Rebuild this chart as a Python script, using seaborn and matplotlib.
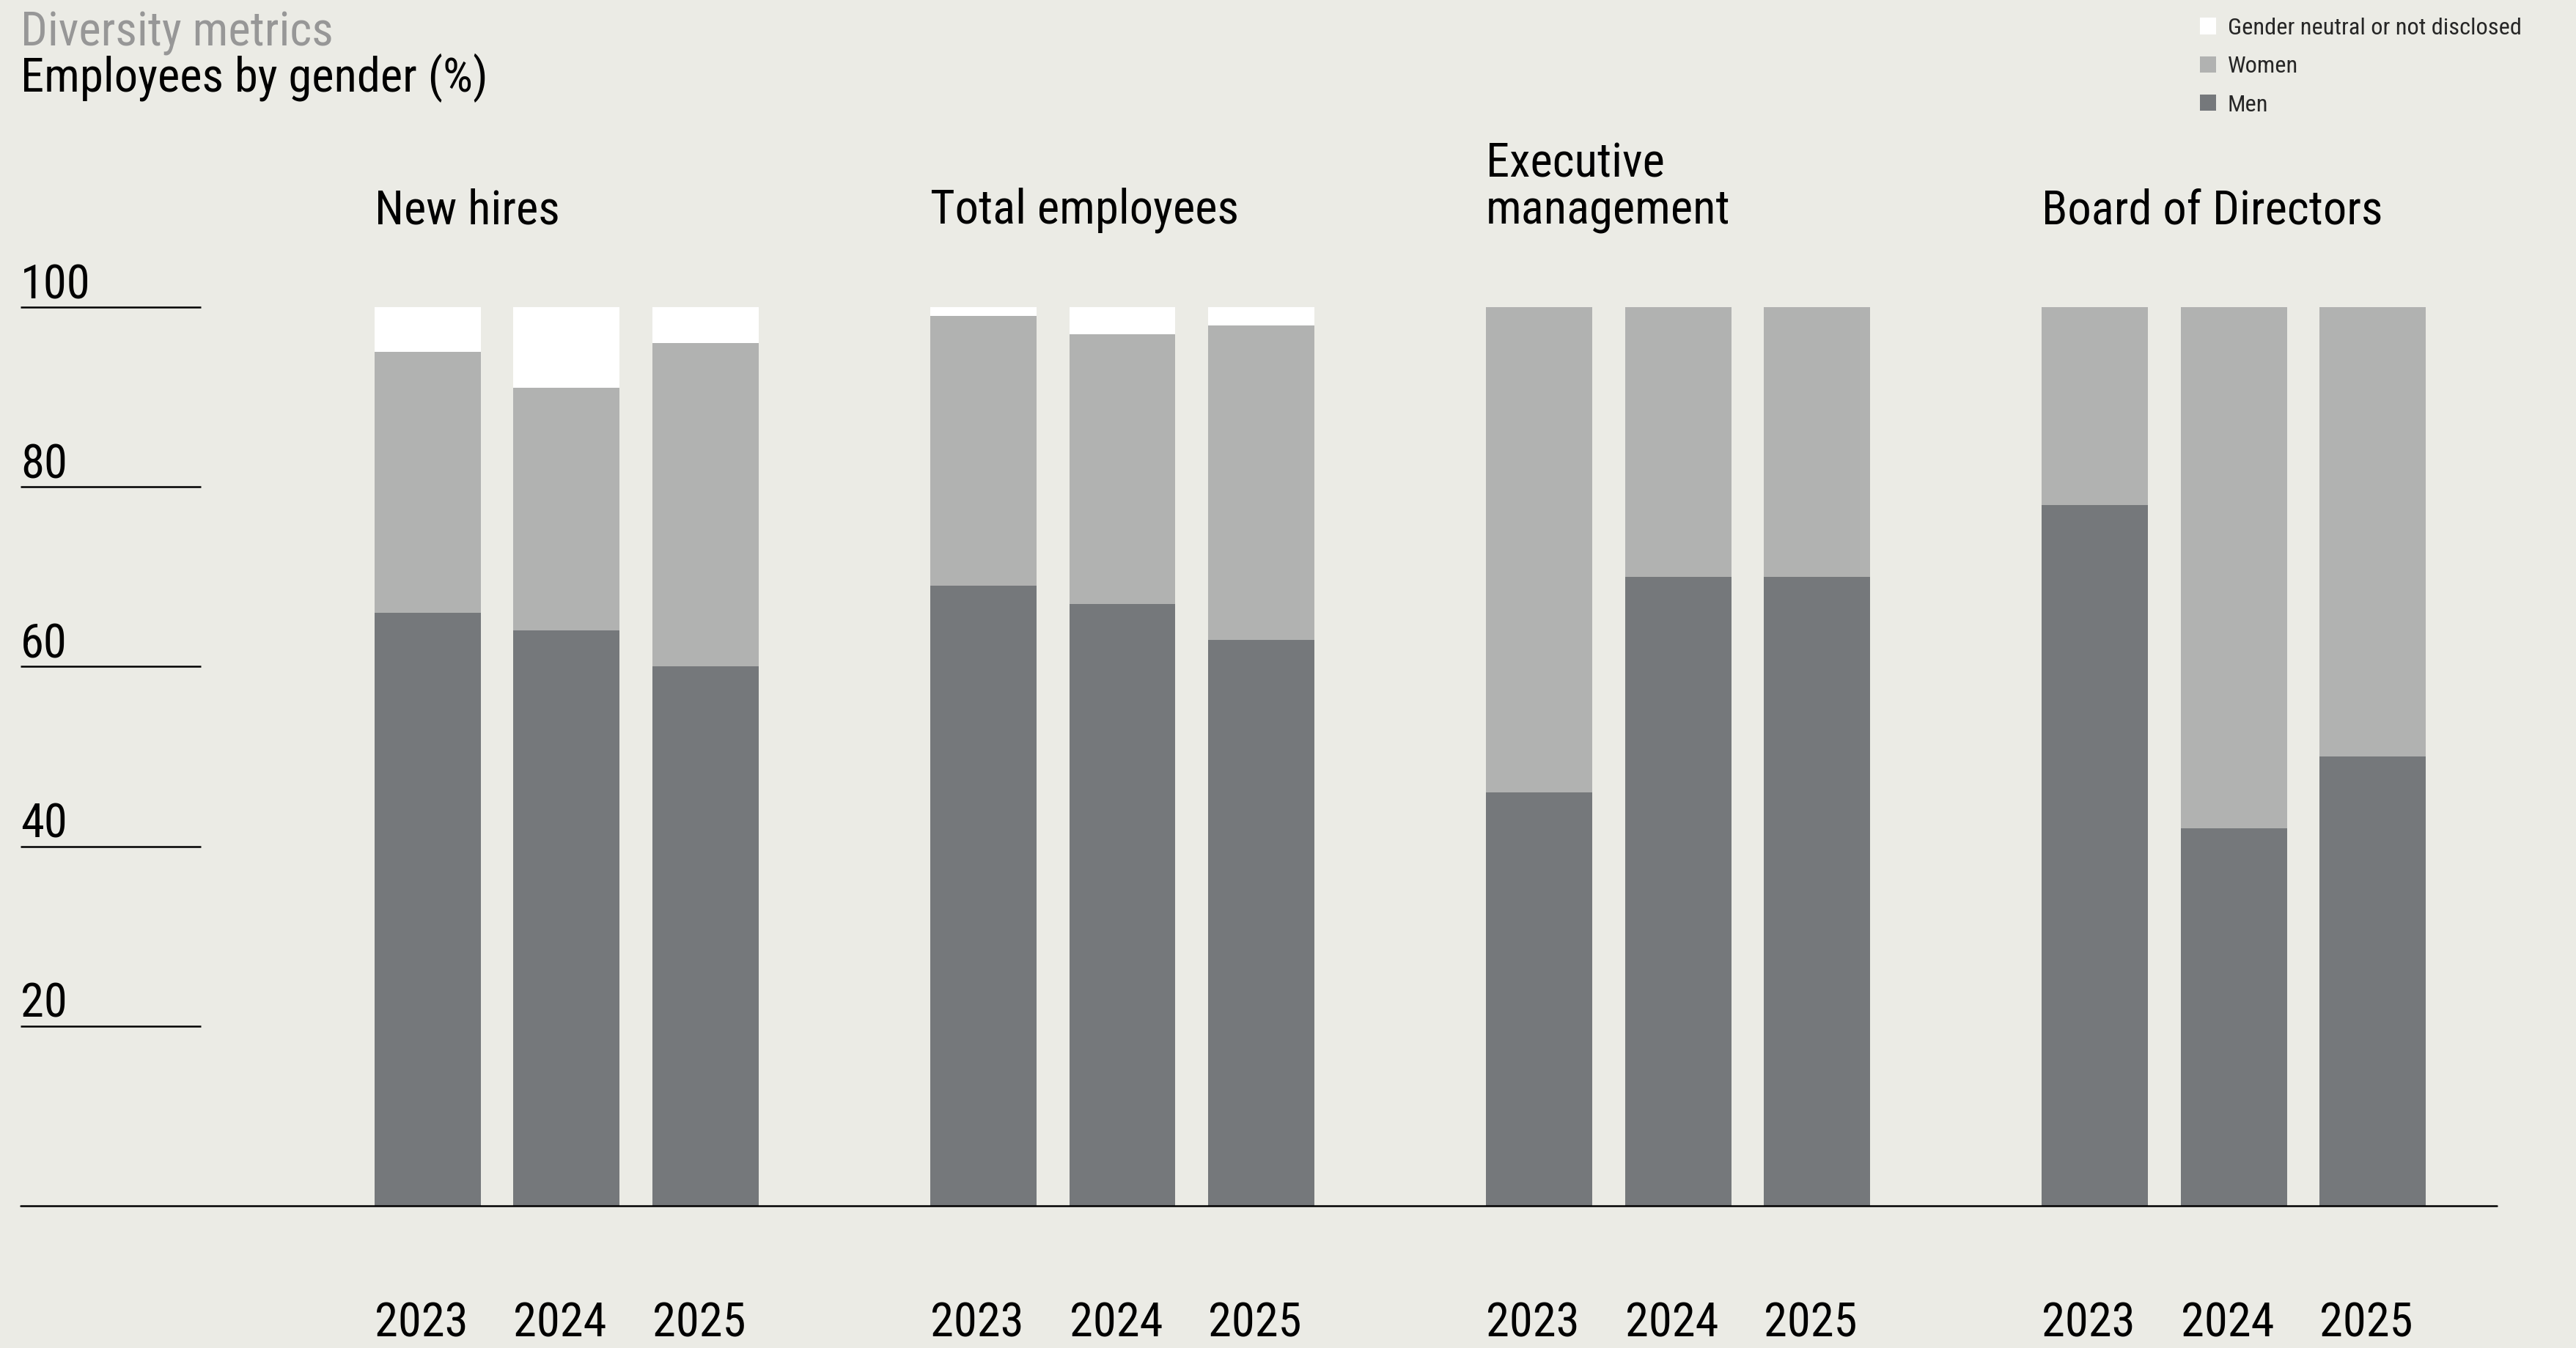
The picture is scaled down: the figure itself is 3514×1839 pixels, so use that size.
import matplotlib
matplotlib.use("Agg")
import matplotlib.pyplot as plt
import matplotlib.transforms as mtransforms
from matplotlib import font_manager
from matplotlib.font_manager import FontProperties
from matplotlib.textpath import TextPath
import seaborn as sns
import pandas as pd

# ---- data -------------------------------------------------------------
groups = ["New hires", "Total employees", "Executive\nmanagement", "Board of Directors"]
years = ["2023", "2024", "2025"]

men = [66, 64, 60, 69, 67, 63, 46, 70, 70, 78, 42, 50]
women = [29, 27, 36, 30, 30, 35, 54, 30, 30, 22, 58, 50]
neutral = [5, 9, 4, 1, 3, 2, 0, 0, 0, 0, 0, 0]

y_ticks = [20, 40, 60, 80, 100]
series_labels = ["Gender neutral or not disclosed", "Women", "Men"]

title_top = "Diversity metrics"
title_main = "Employees by gender (%)"

# ---- style ------------------------------------------------------------
W, H, DPI = 3514, 1839, 200
BG = "#EBEBE5"
DARK = "#75787B"
LIGHT = "#B1B2B1"
WHITE = "#FFFFFF"
GREY_TEXT = "#979797"

sns.set_style("white")
plt.rcParams["axes.facecolor"] = BG
plt.rcParams["figure.facecolor"] = BG

# pick the regular-weight sans face whose set width is the most compact:
# cap height of 46 px and a title about 634 px long
SANS = ("Liberation Sans", "Liberation Sans Narrow", "Roboto", "Roboto Condensed",
        "Open Sans", "Open Sans Condensed", "Open Sans SemiCondensed",
        "Noto Sans", "Noto Sans Display", "Noto Sans Condensed",
        "Noto Sans SemiCondensed", "Lato", "Inter", "DejaVu Sans")
CAP_PX, TITLE_PX = 46.0, 634.0
best = None
for f in font_manager.fontManager.ttflist:
    if f.name not in SANS or f.style != "normal" or f.weight not in (400, "normal", "regular"):
        continue
    try:
        p10 = FontProperties(fname=f.fname, size=10)
        cap10 = TextPath((0, 0), "E", prop=p10).get_extents().height
        wid10 = TextPath((0, 0), title_main, prop=p10).get_extents().width
    except Exception:
        continue
    width_at_cap = wid10 * CAP_PX / cap10
    score = abs(width_at_cap - TITLE_PX)
    if best is None or score < best[0]:
        best = (score, f.fname, cap10)
FONT_FILE, CAP10 = best[1], best[2]
PX_PER_PT = DPI / 72.0


def fp(cap_px):
    """Font properties giving the requested cap height in pixels."""
    size = cap_px / PX_PER_PT / (CAP10 / 10.0)
    return FontProperties(fname=FONT_FILE, size=size)


BIG = fp(46)
LEG = fp(23)


def fx(px):
    return px / W


def fy(px):
    return 1 - px / H


# ---- table: one slot per bar, an empty slot between groups -------------
rows = []
order = []
k = 0
for gi, g in enumerate(groups):
    for y in years:
        slot = f"{g}|{y}"
        order.append(slot)
        m, wv, n = men[k], women[k], neutral[k]
        rows.append({"slot": slot, "group": g, "year": y,
                     "men": m, "women_top": m + wv, "total": m + wv + n})
        k += 1
    if gi < len(groups) - 1:
        order.append(" " * (gi + 1))
df = pd.DataFrame(rows)

# ---- figure -----------------------------------------------------------
fig = plt.figure(figsize=(W / DPI, H / DPI), dpi=DPI)
ax = fig.add_axes([fx(28), fy(1645), fx(3406) - fx(28), fy(419) - fy(1645)])

BAR_W = 0.765
layers = [("total", WHITE, series_labels[0]),
          ("women_top", LIGHT, series_labels[1]),
          ("men", DARK, series_labels[2])]
for col, color, label in layers:
    sns.barplot(data=df, x="slot", y=col, order=order, color=color,
                width=BAR_W, saturation=1, errorbar=None, linewidth=0,
                label=label, ax=ax)
if ax.get_legend() is not None:
    ax.get_legend().remove()

x_left, x_right = -2.931, 14.894
ax.set_xlim(x_left, x_right)
ax.set_ylim(0, 100)
ax.set_xticks([])
ax.set_yticks([])
ax.set_xlabel("")
ax.set_ylabel("")
for s in ax.spines.values():
    s.set_visible(False)

# short rule under each y value, with the value written above it
tick_end = -1.633
LW = 0.9
ax.hlines(y_ticks, x_left, tick_end, color="black", lw=LW, clip_on=False)
for v in y_ticks:
    ax.annotate(str(v), xy=(0, v), xycoords=("axes fraction", "data"),
                xytext=(0, 12 / PX_PER_PT), textcoords="offset points",
                ha="left", va="baseline", fontproperties=BIG, color="black")
ax.axhline(0, color="black", lw=LW, clip_on=False)

# group titles and year labels, aligned to the left edge of the bars
blend = mtransforms.blended_transform_factory(ax.transData, fig.transFigure)
pos = {s: i for i, s in enumerate(order)}
for g in groups:
    first = pos[f"{g}|{years[0]}"]
    lines = g.split("\n")
    for li, line in enumerate(lines):
        base_px = 305 - (len(lines) - 1 - li) * 63
        ax.text(first - BAR_W / 2, fy(base_px), line, transform=blend,
                ha="left", va="baseline", fontproperties=BIG, color="black")
    for y in years:
        p = pos[f"{g}|{y}"]
        ax.text(p - BAR_W / 2, fy(1824), y, transform=blend,
                ha="left", va="baseline", fontproperties=BIG, color="black")

# titles
fig.text(fx(28), fy(62), title_top, ha="left", va="baseline",
         fontproperties=BIG, color=GREY_TEXT)
fig.text(fx(28), fy(125), title_main, ha="left", va="baseline",
         fontproperties=BIG, color="black")

# legend
handles, labels = ax.get_legend_handles_labels()
fig.legend(handles, labels, loc="upper left",
           bbox_to_anchor=(fx(3001), fy(24)), bbox_transform=fig.transFigure,
           frameon=False, prop=LEG, handlelength=0.69, handleheight=0.69,
           handletextpad=0.47, labelspacing=0.72, borderpad=0, borderaxespad=0)

fig.savefig("out.png", dpi=DPI, facecolor=BG)
